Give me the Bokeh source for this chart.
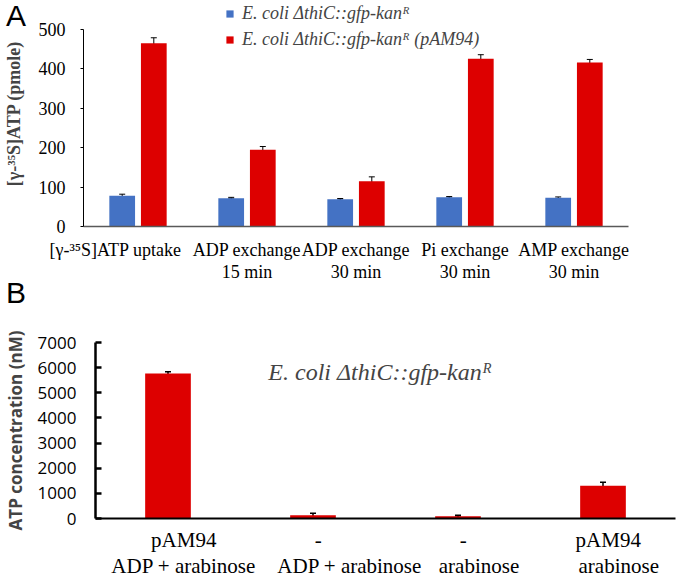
from bokeh.plotting import figure
from bokeh.models import (FactorRange, Range1d, ColumnDataSource, Whisker, Legend,
                          LegendItem, Label, FixedTicker, TeeHead, Div)
from bokeh.transform import dodge
from bokeh.embed import file_html
from bokeh.resources import INLINE

EN = "\u2002"  # en space: the original figure's labels are nudged sideways by spaces

# ---------------- data ----------------
a_categories = ["[γ-³⁵S]ATP uptake" + EN * 5, "ADP exchange\n15 min", "ADP exchange\n30 min",
                "Pi exchange\n30 min", "AMP exchange\n30 min"]
a_series = ["E. coli ΔthiC::gfp-kanᴿ", "E. coli ΔthiC::gfp-kanᴿ (pAM94)"]
a_control = [78, 72, 69, 74, 73]
a_control_err = [4, 2, 2, 2, 2]
a_pam94 = [465, 195, 115, 426, 416]
a_pam94_err = [14, 8, 11, 10, 8]
a_yticks = [0, 100, 200, 300, 400, 500]

b_categories = [EN * 3 + "pAM94\n" + EN * 3 + "ADP + arabinose",
                EN * 1 + "-\n" + EN * 7 + "ADP + arabinose",
                EN * 1 + "-\n" + EN * 4 + "arabinose",
                EN * 1 + "pAM94\n" + EN * 3 + "arabinose"]
b_values = [5770, 130, 90, 1300]
b_err = [70, 80, 40, 140]
b_yticks = [0, 1000, 2000, 3000, 4000, 5000, 6000, 7000]
b_annotation = "E. coli ΔthiC::gfp-kanᴿ"

BLUE = "#4472C4"
RED = "#DD0000"
SERIF = "Liberation Serif"
SANS = "Open Sans"

# ---------------- panel A ----------------
A_TOP = 573.6  # frame reaches the canvas top so the legend stays inside it
pa = figure(width=677, height=290, x_range=FactorRange(*a_categories, range_padding=0),
            y_range=Range1d(0, A_TOP), output_backend="svg", toolbar_location=None,
            min_border_left=78, min_border_right=49, min_border_top=0, min_border_bottom=64)
pa.outline_line_color = None
pa.border_fill_alpha = 0
pa.xgrid.grid_line_color = None
pa.ygrid.grid_line_color = None

src_a = ColumnDataSource(dict(
    cat=a_categories, ctrl=a_control, pam=a_pam94,
    ctrl_lo=[v - e for v, e in zip(a_control, a_control_err)],
    ctrl_hi=[v + e for v, e in zip(a_control, a_control_err)],
    pam_lo=[v - e for v, e in zip(a_pam94, a_pam94_err)],
    pam_hi=[v + e for v, e in zip(a_pam94, a_pam94_err)],
))
off = 0.145
r_ctrl = pa.vbar(x=dodge("cat", -off, range=pa.x_range), top="ctrl", width=0.236,
                 source=src_a, fill_color=BLUE, line_color=None)
r_pam = pa.vbar(x=dodge("cat", off, range=pa.x_range), top="pam", width=0.236,
                source=src_a, fill_color=RED, line_color=None)
for base, lo, hi in [(-off, "ctrl_lo", "ctrl_hi"), (off, "pam_lo", "pam_hi")]:
    w = Whisker(source=src_a, base=dodge("cat", base, range=pa.x_range), lower=lo, upper=hi,
                line_color="black", line_width=1,
                upper_head=TeeHead(size=6, line_color="black", line_width=1),
                lower_head=TeeHead(size=6, line_color="black", line_width=1))
    pa.add_layout(w)

pa.yaxis.ticker = FixedTicker(ticks=a_yticks)
pa.yaxis.bounds = (0, 500)
pa.yaxis.minor_tick_line_color = None
pa.yaxis.major_tick_out = 3
pa.yaxis.major_tick_in = 0
pa.yaxis.axis_line_color = "black"
pa.yaxis.major_label_text_font = SERIF
pa.yaxis.major_label_text_font_size = "18px"
pa.yaxis.major_label_text_color = "black"
pa.yaxis.major_label_standoff = 15
pa.yaxis.axis_label = "[γ-³⁵S]ATP (pmole)"
pa.yaxis.axis_label_text_font = SERIF
pa.yaxis.axis_label_text_font_style = "bold"
pa.yaxis.axis_label_text_font_size = "18px"
pa.yaxis.axis_label_standoff = 12

pa.xaxis.axis_line_color = "#595959"
pa.xaxis.axis_line_width = 1.5
pa.xaxis.major_tick_line_color = None
pa.xaxis.major_tick_out = 0
pa.xaxis.major_tick_in = 0
pa.xaxis.minor_tick_line_color = None
pa.xaxis.major_label_text_font = SERIF
pa.xaxis.major_label_text_font_size = "18px"
pa.xaxis.major_label_text_line_height = 1.1
pa.xaxis.major_label_text_color = "black"
pa.xaxis.major_label_standoff = 13

legend = Legend(items=[LegendItem(label=a_series[0], renderers=[r_ctrl]),
                       LegendItem(label=a_series[1], renderers=[r_pam])],
                location=(142, 176), orientation="vertical",
                label_text_font=SERIF, label_text_font_style="italic",
                label_text_font_size="18px", glyph_width=9, glyph_height=9,
                spacing=5, padding=0, margin=0, border_line_color=None,
                background_fill_alpha=0, label_standoff=8)
pa.add_layout(legend, "center")

# ---------------- panel B ----------------
pb = figure(width=677, height=290, x_range=FactorRange(*b_categories, range_padding=0),
            y_range=Range1d(0, 7000), output_backend="svg", toolbar_location=None,
            min_border_left=91, min_border_right=2, min_border_top=52, min_border_bottom=60)
pb.outline_line_color = None
pb.border_fill_alpha = 0
pb.xgrid.grid_line_color = None
pb.ygrid.grid_line_color = None

src_b = ColumnDataSource(dict(
    cat=b_categories, val=b_values,
    lo=[v - e for v, e in zip(b_values, b_err)],
    hi=[v + e for v, e in zip(b_values, b_err)],
))
pb.vbar(x="cat", top="val", width=0.315, source=src_b, fill_color=RED, line_color=None)
pb.add_layout(Whisker(source=src_b, base="cat", lower="lo", upper="hi",
                      line_color="black", line_width=1.5,
                      upper_head=TeeHead(size=6, line_color="black", line_width=1.5),
                      lower_head=TeeHead(size=6, line_color="black", line_width=1.5)))

pb.yaxis.ticker = FixedTicker(ticks=b_yticks)
pb.yaxis.minor_tick_line_color = None
pb.yaxis.major_tick_out = 0
pb.yaxis.major_tick_in = 6
pb.yaxis.major_tick_line_width = 2.5
pb.yaxis.axis_line_width = 2.5
pb.yaxis.axis_line_color = "black"
pb.yaxis.major_label_text_font = SANS
pb.yaxis.major_label_text_font_size = "17px"
pb.yaxis.major_label_text_color = "black"
pb.yaxis.major_label_standoff = 19
pb.yaxis.axis_label = "ATP concentration (nM)"
pb.yaxis.axis_label_text_font = SANS
pb.yaxis.axis_label_text_font_style = "bold"
pb.yaxis.axis_label_text_font_size = "17px"
pb.yaxis.axis_label_standoff = 8

pb.xaxis.axis_line_color = "black"
pb.xaxis.axis_line_width = 2
pb.xaxis.major_tick_line_color = None
pb.xaxis.major_tick_out = 0
pb.xaxis.major_tick_in = 0
pb.xaxis.minor_tick_line_color = None
pb.xaxis.major_label_text_font = SERIF
pb.xaxis.major_label_text_font_size = "21px"
pb.xaxis.major_label_text_line_height = 1.1
pb.xaxis.major_label_text_color = "black"
pb.xaxis.major_label_standoff = 9

pb.add_layout(Label(x=1.192, y=5820, text=b_annotation, text_font=SERIF,
                    text_font_style="italic", text_font_size="24px",
                    text_baseline="middle", text_align="left"))

# ---------------- panel letters ----------------
letter_style = {"position": "absolute", "margin": "0", "padding": "0",
                "font-family": "Liberation Sans", "font-size": "30px", "line-height": "1",
                "color": "black"}
div_a = Div(text="A", styles=dict(letter_style, left="6px", top="1px"))
div_b = Div(text="B", styles=dict(letter_style, left="6px", top="278px"))

open("out.html", "w").write(file_html([pa, pb, div_a, div_b], INLINE))
